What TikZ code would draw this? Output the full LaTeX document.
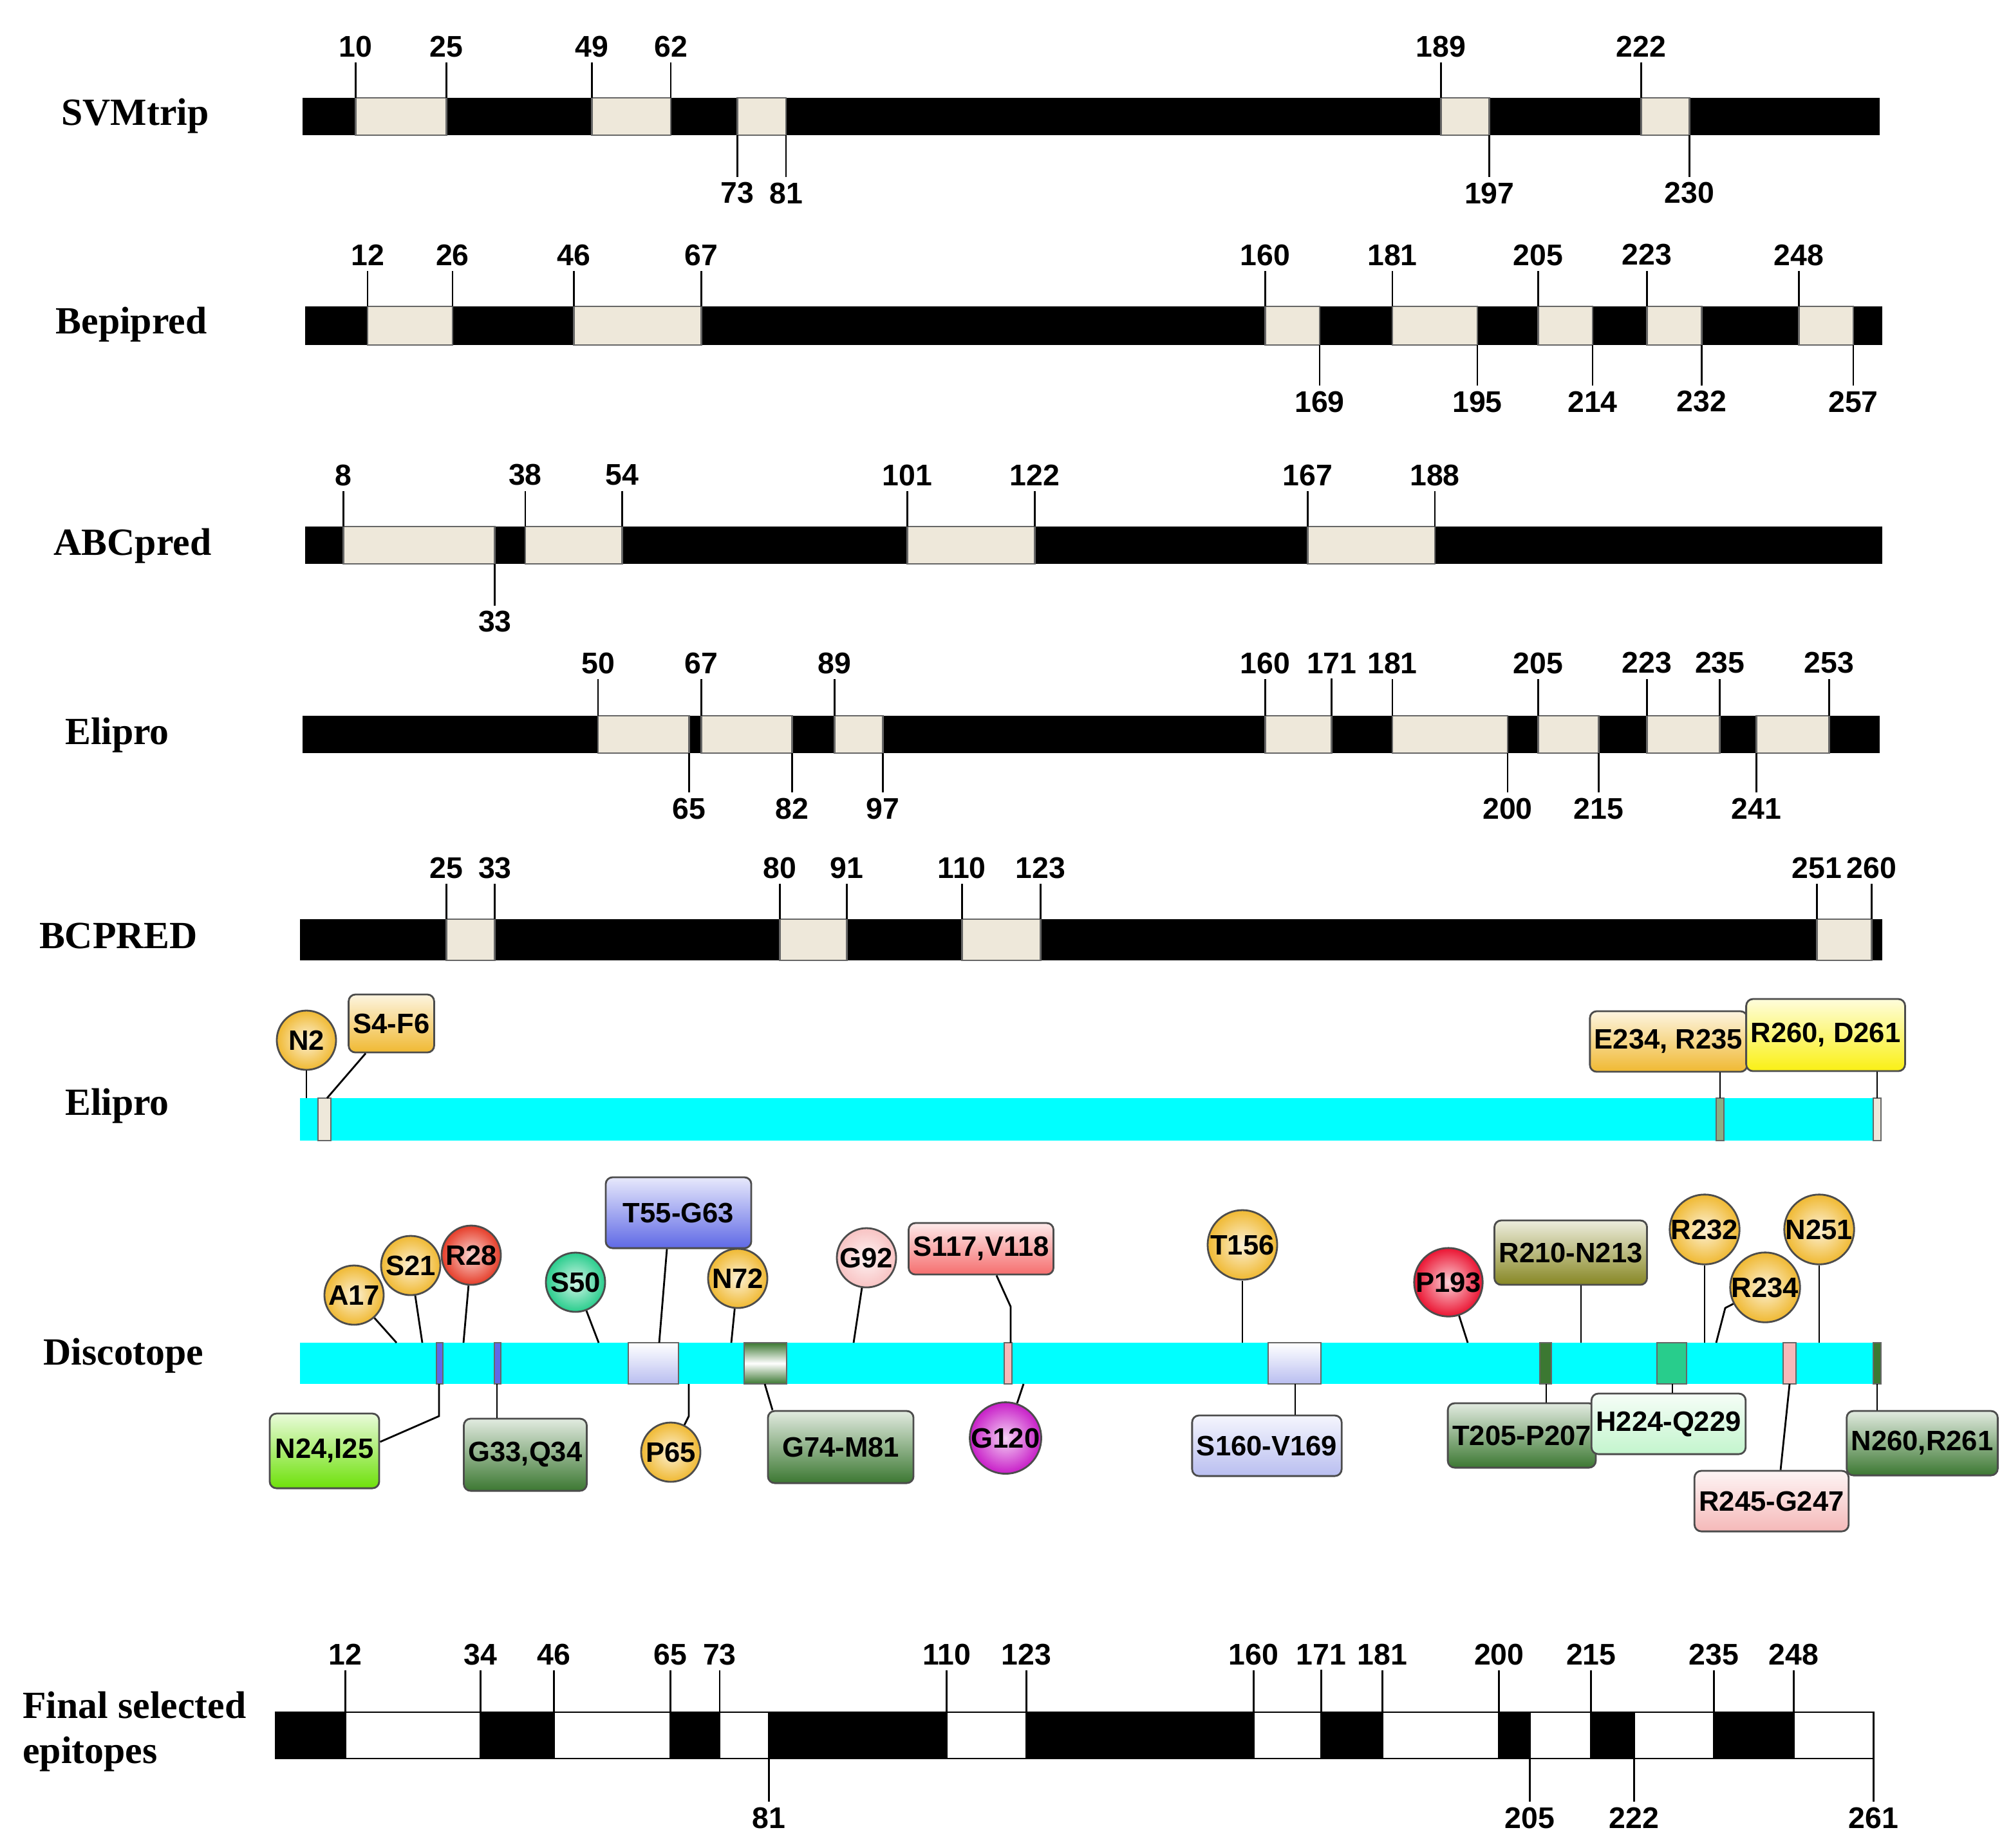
\documentclass[tikz,border=0pt]{standalone}
\usepackage{fontspec}
\setmainfont{Liberation Serif}
\newfontfamily\numfont{Liberation Sans}
\usetikzlibrary{positioning}
\definecolor{boxfill}{RGB}{238,232,218}
\definecolor{aqua}{RGB}{0,255,255}
\definecolor{gold}{RGB}{240,185,50}
\definecolor{redb}{RGB}{230,60,40}
\definecolor{mint}{RGB}{40,205,140}
\definecolor{bluet}{RGB}{95,105,230}
\definecolor{pinkg}{RGB}{248,195,195}
\definecolor{salmon}{RGB}{245,110,110}
\definecolor{olive}{RGB}{135,135,35}
\definecolor{lime}{RGB}{110,225,10}
\definecolor{dgreen}{RGB}{60,120,50}
\definecolor{magb}{RGB}{200,30,200}
\definecolor{lav}{RGB}{185,190,240}
\definecolor{lgreen}{RGB}{195,245,205}
\definecolor{pinkr}{RGB}{245,185,185}
\definecolor{yel}{RGB}{250,240,20}
\definecolor{redp}{RGB}{235,20,50}
\tikzset{
  num/.style={font=\numfont\bfseries\fontsize{6.6}{7.5}\selectfont, inner sep=1pt},
  trackname/.style={font=\bfseries\fontsize{8.5}{10}\selectfont},
  epi/.style={draw=black!60, fill=boxfill},
  ball/.style={circle, draw=black!70, inner sep=0pt, minimum size=0.46cm,
    font=\numfont\bfseries\fontsize{6.2}{7}\selectfont, inner color=#1!20, outer color=#1},
  tag/.style={rectangle, rounded corners=1.5pt, draw=black!70, inner sep=1pt,
    minimum height=0.47cm, font=\numfont\bfseries\fontsize{6.2}{7}\selectfont,
    top color=#1!15, bottom color=#1},
  mark/.style={draw=black!60, fill=#1}
}
\begin{document}
\begin{tikzpicture}[x=0.01cm, y=-0.01cm]
\useasboundingbox (0,0) rectangle (1555,1435);

% Track names
\node[trackname] (n1) at (105,90) {SVMtrip};
\node[trackname] (n2) at (102,252) {Bepipred};
\node[trackname] (n3) at (103,424) {ABCpred};
\node[trackname] (n4) at (91,571) {Elipro};
\node[trackname] (n5) at (92,727) {BCPRED};
\node[trackname] (n6) at (91,859) {Elipro};
\node[trackname] (n7) at (96,1053) {Discotope};
\node[trackname, anchor=west, align=left, inner sep=0pt] (n8) at (17,1345) {Final selected\\epitopes};

% SVMtrip
\fill (235,76) rectangle (1460,105);
\foreach \a/\b in {10/25,49/62,73/81,189/197,222/230}
  \draw[epi] ({229+4.71*\a},76) rectangle ({229+4.71*\b},105);
\foreach \p in {10,25,49,62,189,222} {
  \node[num] (s\p) at ({229+4.71*\p},36) {\p};
  \draw (s\p.south) -- ({229+4.71*\p},76);
}
\foreach \p in {73,81,197,230} {
  \node[num] (sb\p) at ({229+4.71*\p},150) {\p};
  \draw (sb\p.north) -- ({229+4.71*\p},105);
}

% Bepipred
\fill (237,238) rectangle (1462,268);
\foreach \a/\b in {12/26,46/67,160/169,181/195,205/214,223/232,248/257}
  \draw[epi] ({229+4.71*\a},238) rectangle ({229+4.71*\b},268);
\foreach \p in {12,26,46,67,160,181,205,223,248} {
  \node[num] (b\p) at ({229+4.71*\p},198) {\p};
  \draw (b\p.south) -- ({229+4.71*\p},238);
}
\foreach \p in {169,195,214,232,257} {
  \node[num] (bb\p) at ({229+4.71*\p},312) {\p};
  \draw (bb\p.north) -- ({229+4.71*\p},268);
}

% ABCpred
\fill (237,409) rectangle (1462,438);
\foreach \a/\b in {8/33,38/54,101/122,167/188}
  \draw[epi] ({229+4.71*\a},409) rectangle ({229+4.71*\b},438);
\foreach \p in {8,38,54,101,122,167,188} {
  \node[num] (a\p) at ({229+4.71*\p},369) {\p};
  \draw (a\p.south) -- ({229+4.71*\p},409);
}
\node[num] (ab33) at ({229+4.71*33},483) {33};
\draw (ab33.north) -- ({229+4.71*33},438);

% Elipro
\fill (235,556) rectangle (1460,585);
\foreach \a/\b in {50/65,67/82,89/97,160/171,181/200,205/215,223/235,241/253}
  \draw[epi] ({229+4.71*\a},556) rectangle ({229+4.71*\b},585);
\foreach \p in {50,67,89,160,171,181,205,223,235,253} {
  \node[num] (e\p) at ({229+4.71*\p},515) {\p};
  \draw (e\p.south) -- ({229+4.71*\p},556);
}
\foreach \p in {65,82,97,200,215,241} {
  \node[num] (eb\p) at ({229+4.71*\p},628) {\p};
  \draw (eb\p.north) -- ({229+4.71*\p},585);
}

% BCPRED
\fill (233,714) rectangle (1462,746);
\foreach \a/\b in {25/33,80/91,110/123,251/260}
  \draw[epi] ({229+4.71*\a},714) rectangle ({229+4.71*\b},746);
\foreach \p in {25,33,80,91,110,123,251,260} {
  \node[num] (c\p) at ({229+4.71*\p},674) {\p};
  \draw (c\p.south) -- ({229+4.71*\p},714);
}

% Elipro (conformational)
\fill[aqua] (233,853) rectangle (1460,886);
\draw[mark=boxfill] (247,853) rectangle (257,886);
\draw[mark=dgreen!60] (1333,853) rectangle (1339,886);
\draw[mark=boxfill] (1455,853) rectangle (1461,886);
\node[ball=gold] (n2) at (238,808) {N2};
\node[tag=gold, minimum width=0.66cm, minimum height=0.45cm] (s4) at (304,795) {S4-F6};
\node[tag=gold, minimum width=1.12cm] (e234) at (1296,809) {E234, R235};
\node[tag=yel, minimum width=1.13cm, minimum height=0.56cm] (r260) at (1418,804) {R260, D261};
\draw (n2) -- (238,853);
\draw (s4) -- (254,853);
\draw (e234.south -| 1336,0) -- (1336,853);
\draw (r260.south -| 1458,0) -- (1458,853);

% Discotope
\fill[aqua] (233,1043) rectangle (1460,1075);
\draw[mark=bluet] (339,1043) rectangle (344,1075);
\draw[mark=bluet] (384,1043) rectangle (389,1075);
\draw[mark=lav, top color=white, bottom color=lav] (488,1043) rectangle (527,1075);
\draw[mark=dgreen, top color=dgreen, bottom color=dgreen, middle color=white] (578,1043) rectangle (611,1075);
\draw[mark=pinkr] (780,1043) rectangle (786,1075);
\draw[mark=lav, top color=white, bottom color=lav] (985,1043) rectangle (1026,1075);
\draw[mark=dgreen, middle color=white, top color=dgreen, bottom color=dgreen] (1196,1043) rectangle (1205,1075);
\draw[mark=mint, middle color=white, top color=mint, bottom color=mint] (1287,1043) rectangle (1310,1075);
\draw[mark=pinkr] (1385,1043) rectangle (1395,1075);
\draw[mark=dgreen, middle color=white, top color=dgreen, bottom color=dgreen] (1455,1043) rectangle (1461,1075);

% above the bar
\node[ball=gold] (a17) at (275,1006) {A17};
\node[ball=gold] (s21) at (319,983) {S21};
\node[ball=redb] (r28) at (366,975) {R28};
\node[ball=mint] (s50) at (447,996) {S50};
\node[tag=bluet, minimum width=1.13cm, minimum height=0.55cm] (t55) at (527,942) {T55-G63};
\node[ball=gold] (n72) at (573,993) {N72};
\node[ball=pinkg] (g92) at (673,977) {G92};
\node[tag=salmon, minimum width=0.94cm, minimum height=0.4cm] (s117) at (762,970) {S117,V118};
\node[ball=gold, minimum size=0.54cm] (t156) at (965,967) {T156};
\node[ball=redp, minimum size=0.52cm] (p193) at (1125,996) {P193};
\node[tag=olive, minimum width=1.14cm, minimum height=0.5cm] (r210) at (1220,973) {R210-N213};
\node[ball=gold, minimum size=0.48cm] (r232) at (1324,955) {R232};
\node[ball=gold] (r234) at (1371,1000) {R234};
\node[ball=gold] (n251) at (1413,955) {N251};
\draw (a17) -- (308,1043);
\draw (s21) -- (328,1043);
\draw (r28) -- (360,1043);
\draw (s50) -- (465,1043);
\draw (t55.south -| 518,0) -- (512,1043);
\draw (n72) -- (568,1043);
\draw (g92) -- (663,1043);
\draw (s117.south -| 774,0) -- (785,1015) -- (785,1043);
\draw (t156) -- (965,1043);
\draw (p193) -- (1140,1043);
\draw (r210.south -| 1228,0) -- (1228,1043);
\draw (r232) -- (1324,1043);
\draw (r234) -- (1340,1016) -- (1333,1043);
\draw (n251) -- (1413,1043);

% below the bar
\node[tag=lime, minimum width=0.85cm, minimum height=0.58cm] (n24) at (252,1127) {N24,I25};
\node[tag=dgreen, minimum width=0.86cm, minimum height=0.56cm] (g33) at (408,1130) {G33,Q34};
\node[ball=gold] (p65) at (521,1128) {P65};
\node[tag=dgreen, minimum width=1.13cm, minimum height=0.56cm] (g74) at (653,1124) {G74-M81};
\node[ball=magb] (g120) at (781,1117) {G120};
\node[tag=lav, minimum width=1.13cm] (s160) at (984,1123) {S160-V169};
\node[tag=dgreen, minimum width=1.13cm, minimum height=0.5cm] (t205) at (1182,1115) {T205-P207};
\node[tag=lgreen, minimum width=1.13cm] (h224) at (1296,1106) {H224-Q229};
\node[tag=pinkr, minimum width=1.12cm] (r245) at (1376,1166) {R245-G247};
\node[tag=dgreen, minimum width=1.04cm, minimum height=0.5cm] (n260) at (1493,1121) {N260,R261};
\draw (341,1075) -- (341,1100) -- (n24.east |- 0,1120);
\draw (386,1075) -- (g33.north -| 386,0);
\draw (535,1075) -- (535,1100) -- (p65);
\draw (594,1075) -- (g74.north -| 600,0);
\draw (795,1075) -- (g120);
\draw (1006,1075) -- (s160.north -| 1006,0);
\draw (1201,1075) -- (t205.north -| 1201,0);
\draw (1299,1075) -- (h224.north -| 1299,0);
\draw (1390,1075) -- (r245.north -| 1383,0);
\draw (1458,1075) -- (n260.north -| 1458,0);

% Final selected epitopes
\draw[fill=black] (214,1330) rectangle (1455,1366);
\foreach \a/\b in {12/34,46/65,73/81,110/123,160/171,181/200,205/215,222/235,248/261}
  \draw[fill=white] ({211+4.767*\a},1330) rectangle ({211+4.767*\b},1366);
\foreach \p in {12,34,46,65,73,110,123,160,171,181,200,215,235,248} {
  \node[num] (f\p) at ({211+4.767*\p},1285) {\p};
  \draw (f\p.south) -- ({211+4.767*\p},1330);
}
\foreach \p in {81,205,222,261} {
  \node[num] (fb\p) at ({211+4.767*\p},1412) {\p};
  \draw (fb\p.north) -- ({211+4.767*\p},1366);
}
\end{tikzpicture}
\end{document}
